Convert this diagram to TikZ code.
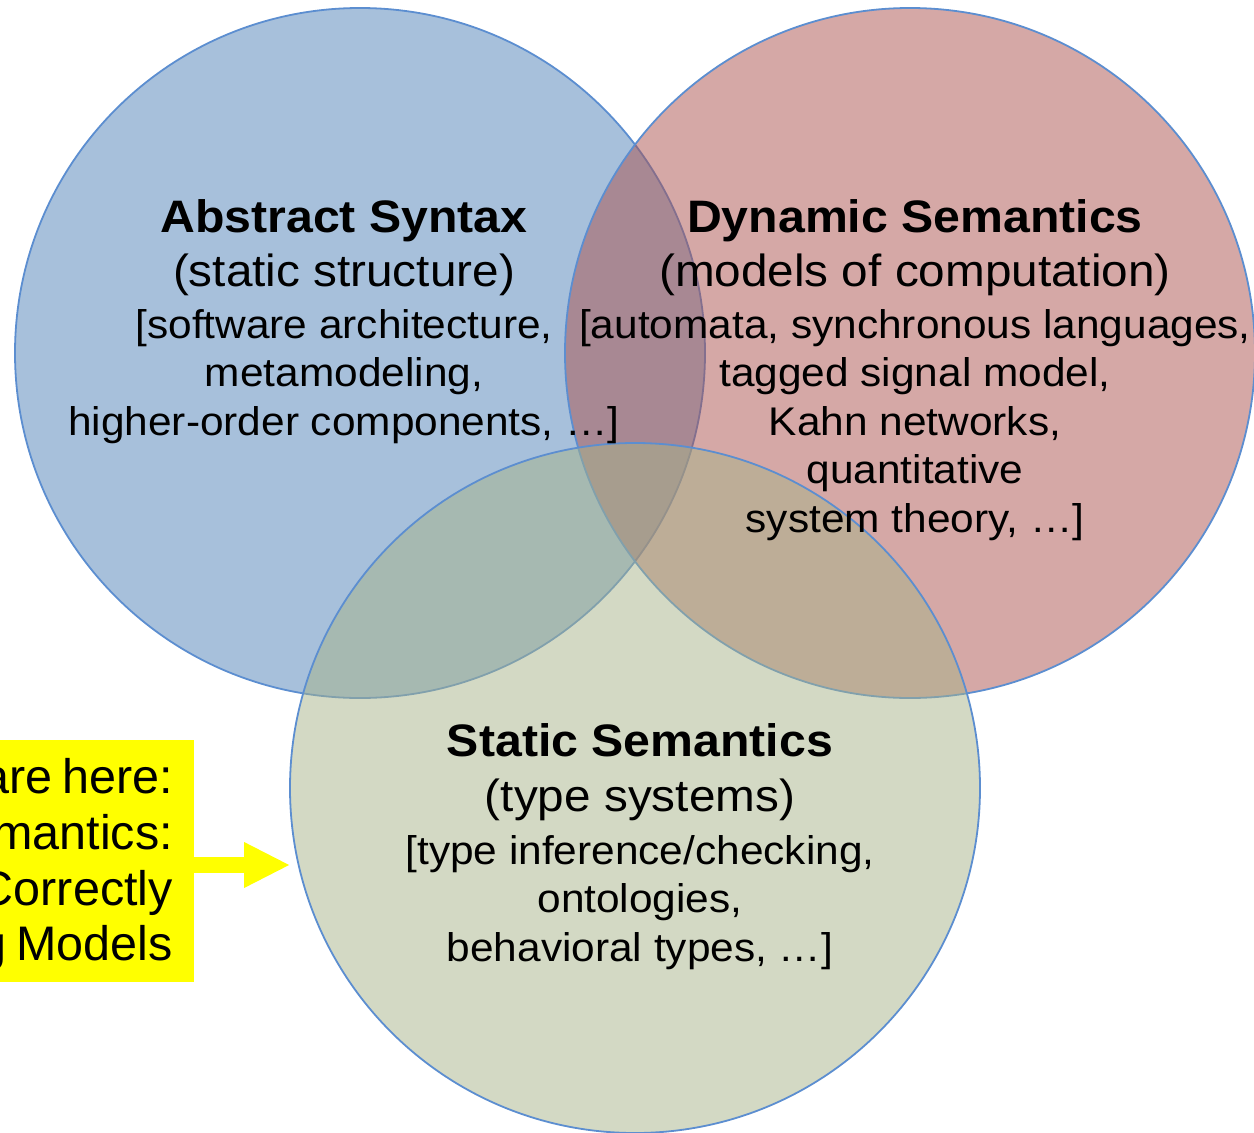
\documentclass[tikz,border=0pt]{standalone}
\usepackage{fontspec}
\setmainfont{Liberation Sans}
\newfontfamily\vennfont{Liberation Sans}[FakeStretch=1.06]
\newfontfamily\notefont{Liberation Sans}[WordSpace=0.75]
\usetikzlibrary{arrows.meta}

\definecolor{syntaxfill}{RGB}{79,129,183}
\definecolor{dynfill}{RGB}{171,81,77}
\definecolor{statfill}{RGB}{167,179,137}
\definecolor{rim}{RGB}{92,142,208}
\definecolor{marker}{RGB}{255,255,0}

\tikzset{
  venn/.style={circle, minimum size=690bp, inner sep=0pt,
               draw=rim, line width=1.8bp, fill opacity=0.5},
  vtitle/.style={anchor=base, inner sep=0pt,
                 font=\vennfont\bfseries\fontsize{45.5bp}{50bp}\selectfont},
  vsub/.style={anchor=base, inner sep=0pt,
               font=\vennfont\fontsize{45bp}{50bp}\selectfont},
  vitem/.style={anchor=base, inner sep=0pt,
                font=\vennfont\fontsize{40bp}{48bp}\selectfont},
  notebox/.style={rectangle, fill=marker, inner sep=0pt,
                  minimum width=300bp, minimum height=242bp, anchor=east},
  noteline/.style={anchor=base east, inner sep=0pt,
                   font=\notefont\fontsize{48.5bp}{56bp}\selectfont},
  pointer/.style={draw=marker, line width=15.5bp,
                  -{Triangle[length=45bp,width=46bp,line width=0pt,fill=marker]}}
}

\begin{document}
\begin{tikzpicture}[x=1bp,y=-1bp]
  \useasboundingbox (0,0) rectangle (1254,1133);
  \clip (0,0) rectangle (1254,1133);

  % the three overlapping sets
  \node[venn, fill=syntaxfill] (syn) at (360,353) {};
  \node[venn, fill=dynfill]    (dyn) at (910,353) {};
  \node[venn, fill=statfill]   (sta) at (635,788) {};

  % Abstract Syntax
  \node[vtitle] (synT)  at (344,232.7) {Abstract Syntax};
  \node[vsub]   (synS)  at (344,286)   {(static structure)};
  \node[vitem]  (synA)  at (344,338)   {[software architecture,};
  \node[vitem]  (synB)  at (344,386.5) {metamodeling,};
  \node[vitem]  (synC)  at (344,435)   {higher-order components, …]};

  % Dynamic Semantics
  \node[vtitle] (dynT)  at (915,232.7) {Dynamic Semantics};
  \node[vsub]   (dynS)  at (915,286)   {(models of computation)};
  \node[vitem]  (dynA)  at (915,338)   {[automata, synchronous languages,};
  \node[vitem]  (dynB)  at (915,386.5) {tagged signal model,};
  \node[vitem]  (dynC)  at (915,435)   {Kahn networks,};
  \node[vitem]  (dynD)  at (915,483.5) {quantitative};
  \node[vitem]  (dynE)  at (915,532)   {system theory, …]};

  % Static Semantics
  \node[vtitle] (staT)  at (640,756)   {Static Semantics};
  \node[vsub]   (staS)  at (640,811)   {(type systems)};
  \node[vitem]  (staA)  at (640,864)   {[type inference/checking,};
  \node[vitem]  (staB)  at (640,912.5) {ontologies,};
  \node[vitem]  (staC)  at (640,961)   {behavioral types, …]};

  % highlight box with pointer
  \node[notebox] (note) at (193.7,861) {};
  \node[noteline] (noteA) at (173,793.6) {are here:};
  \node[noteline] (noteB) at (173,849.3) {mantics:};
  \node[noteline] (noteC) at (173,905)   {Correctly};
  \node[noteline] (noteD) at (173,960.7) {g Models};
  \draw[pointer] ([yshift=-4bp]note.east) -- ([yshift=-4bp]note.east -| sta.west);
\end{tikzpicture}
\end{document}
